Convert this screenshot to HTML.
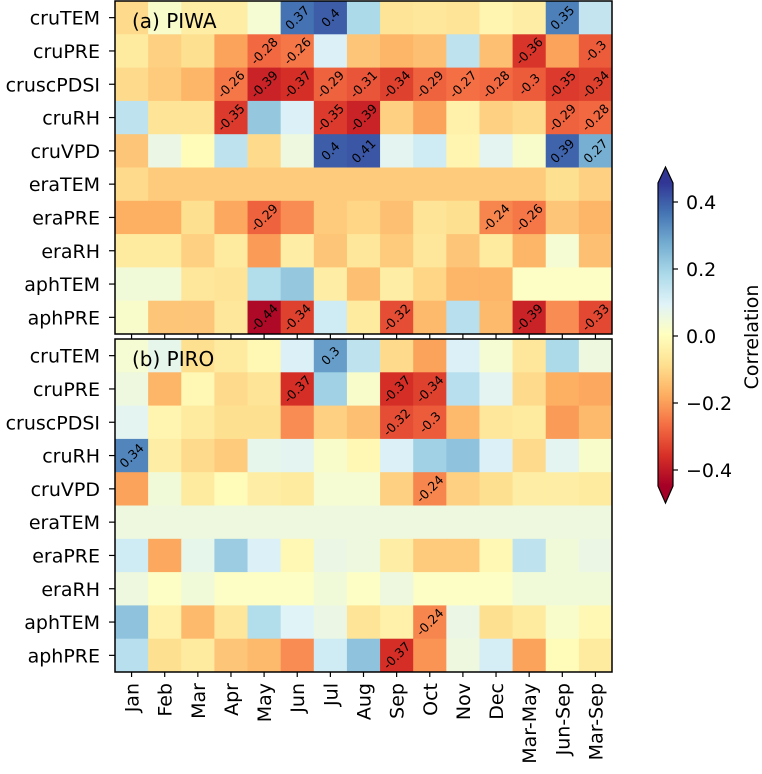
<!DOCTYPE html>
<html><head><meta charset="utf-8"><style>
html,body{margin:0;padding:0;background:#fff;width:762px;height:774px;overflow:hidden}
svg{display:block;font-family:"DejaVu Sans","Liberation Sans",sans-serif}
</style></head><body>
<svg id="chart" width="762" height="774" viewBox="0 0 762 774"></svg>
<script>
const months = ["Jan","Feb","Mar","Apr","May","Jun","Jul","Aug","Sep","Oct","Nov","Dec","Mar-May","Jun-Sep","Mar-Sep"];
const variables = ["cruTEM","cruPRE","cruscPDSI","cruRH","cruVPD","eraTEM","eraPRE","eraRH","aphTEM","aphPRE"];
const piwaValues = [
 [-0.1,0.02,-0.05,-0.05,0.03,0.37,0.4,0.18,-0.08,-0.07,-0.08,-0.03,-0.05,0.35,0.14],
 [-0.06,-0.12,-0.09,-0.2,-0.28,-0.26,0.1,-0.14,-0.17,-0.15,0.15,-0.15,-0.36,-0.2,-0.3],
 [-0.1,-0.13,-0.17,-0.26,-0.39,-0.37,-0.29,-0.31,-0.34,-0.29,-0.27,-0.28,-0.3,-0.35,-0.34],
 [0.15,-0.08,-0.08,-0.35,0.22,0.1,-0.35,-0.39,-0.12,-0.2,-0.04,-0.12,-0.1,-0.29,-0.28],
 [-0.14,0.06,-0.01,0.15,-0.1,0.05,0.4,0.41,0.08,0.12,-0.03,0.08,0.02,0.39,0.27],
 [-0.1,-0.13,-0.13,-0.13,-0.13,-0.13,-0.13,-0.13,-0.13,-0.13,-0.13,-0.13,-0.13,-0.09,-0.12],
 [-0.18,-0.18,-0.09,-0.19,-0.29,-0.23,-0.13,-0.11,-0.15,-0.08,-0.09,-0.24,-0.26,-0.14,-0.17],
 [-0.06,-0.06,-0.12,-0.06,-0.21,-0.05,-0.14,-0.07,-0.13,-0.07,-0.14,-0.06,-0.17,0.03,-0.15],
 [0.04,0.04,-0.07,-0.08,0.17,0.22,-0.05,-0.15,-0.05,-0.11,-0.17,-0.17,0.01,0.01,0.01],
 [0.02,-0.14,-0.14,-0.07,-0.44,-0.34,0.12,-0.06,-0.32,-0.16,0.16,-0.16,-0.39,-0.23,-0.33]
];
const piroValues = [
 [0.03,0.07,-0.09,-0.06,-0.02,0.1,0.3,0.15,-0.1,-0.2,0.1,0.03,-0.07,0.18,0.05],
 [0.05,-0.17,-0.02,-0.1,-0.08,-0.37,0.2,0.02,-0.37,-0.34,0.16,0.08,-0.1,-0.18,-0.19],
 [0.08,-0.03,-0.06,-0.09,-0.09,-0.23,-0.12,-0.15,-0.32,-0.3,-0.16,-0.07,-0.06,-0.21,-0.16],
 [0.34,-0.05,-0.1,-0.13,0.07,0.08,0.02,-0.02,0.1,0.2,0.23,0.1,-0.1,0.08,0.02],
 [-0.2,0.04,-0.06,-0.01,-0.05,-0.06,0.03,0.03,-0.12,-0.24,-0.12,-0.09,-0.05,-0.05,-0.06],
 [0.05,0.05,0.05,0.05,0.05,0.05,0.05,0.05,0.05,0.05,0.05,0.05,0.05,0.05,0.05],
 [0.12,-0.19,0.07,0.21,0.1,-0.02,0.06,0.05,-0.05,-0.13,-0.13,-0.02,0.15,0.04,0.06],
 [0.05,0.01,0.04,0.01,0.01,0.01,0.04,0.01,0.05,0.01,0.01,0.01,0.04,0.04,0.04],
 [0.23,-0.04,-0.16,-0.07,0.17,0.09,0.06,-0.08,-0.04,-0.24,0.06,-0.09,-0.06,0.02,-0.02],
 [0.16,-0.09,-0.06,-0.14,-0.16,-0.23,0.12,0.23,-0.37,-0.22,0.05,0.11,-0.2,-0.01,-0.06]
];
const panelTitles = ["(a) PIWA","(b) PIRO"];
const cbTicks = [0.4,0.2,0.0,-0.2,-0.4];
const cbTickLabels = ["0.4","0.2","0.0","\u22120.2","\u22120.4"];

const NS="http://www.w3.org/2000/svg";
const svg=document.getElementById('chart');
function mk(tag,attrs,parent){const e=document.createElementNS(NS,tag);for(const k in attrs)e.setAttribute(k,attrs[k]);(parent||svg).appendChild(e);return e;}
const VMAX=0.457;
const stops=["#a50026","#d73027","#f46d43","#fdae61","#fee090","#ffffbf","#e0f3f8","#abd9e9","#74add1","#4575b4","#313695"];
function hex(h){return [1,3,5].map(i=>parseInt(h.substr(i,2),16));}
function cmap(v){let t=(v+VMAX)/(2*VMAX);t=Math.max(0,Math.min(1,t));const p=t*10;const i=Math.min(9,Math.floor(p));const f=p-i;const a=hex(stops[i]),b=hex(stops[i+1]);return "rgb("+a.map((c,k)=>Math.round(c+(b[k]-c)*f)).join(",")+")";}
const X0=115,X1=612,CW=(X1-X0)/months.length,RH=33.3;
const panelTops=[1,339];
const FS=19;
const xScale=j=>X0+j*CW;
function fmt(v){return (Math.round(v*100)/100).toString();}
[piwaValues,piroValues].forEach((vals,p)=>{
  const top=panelTops[p];
  const yScale=i=>top+i*RH;
  const g=mk('g',{});
  
  
  vals.forEach((row,i)=>row.forEach((v,j)=>{
    const r=mk('rect',{x:xScale(j),y:yScale(i),width:CW+0.5,height:RH+0.5,fill:cmap(v)},g);
    
    
    if(Math.abs(v)>=0.24){
      const cx=xScale(j)+CW/2,cy=yScale(i)+RH/2;
      const t=mk('text',{x:cx,y:cy+4.5,'text-anchor':'middle','font-size':12.5,fill:'#000',transform:`rotate(-45 ${cx} ${cy})`},g);
      t.textContent=fmt(v);
      
      
    }
  }));
  const fr=mk('rect',{x:X0,y:top,width:X1-X0,height:RH*variables.length,fill:'none',stroke:'#000','stroke-width':1.5},g);
  
  
  variables.forEach((name,i)=>{
    const cy=yScale(i)+RH/2;
    mk('line',{x1:X0-6,x2:X0,y1:cy,y2:cy,stroke:'#000','stroke-width':1.2},g);
    const t=mk('text',{x:X0-15,y:cy+7,'text-anchor':'end','font-size':FS,fill:'#000'},g);
    t.textContent=name;
    
    
  });
  const bottom=top+RH*variables.length;
  months.forEach((m,j)=>{const cx=xScale(j)+CW/2;mk('line',{x1:cx,x2:cx,y1:bottom,y2:bottom+5,stroke:'#000','stroke-width':1.2},g);});
  const tt=mk('text',{x:132,y:top+27,'font-size':FS+1,fill:'#000'},g);
  tt.textContent=panelTitles[p];
  
  
});
const yb=panelTops[1]+RH*variables.length;
months.forEach((m,j)=>{
  const cx=xScale(j)+CW/2+7;const y=yb+11;
  const t=mk('text',{x:cx,y:y,'text-anchor':'end','font-size':FS,fill:'#000',transform:`rotate(-90 ${cx} ${y})`});
  t.textContent=m;
  
  
});
// colorbar
const CBX=658,CBW=15,CBT=183,CBB=486;
const cbScale=v=>336-(v/0.2)*67;
const defs=mk('defs',{});
const lg=mk('linearGradient',{id:'cbg',x1:0,y1:0,x2:0,y2:1},defs);
for(let k=0;k<=20;k++){const v=VMAX-k/20*2*VMAX;mk('stop',{offset:(k/20),'stop-color':cmap(v)},lg);}
const cb=mk('g',{});


mk('rect',{x:CBX,y:CBT,width:CBW,height:CBB-CBT,fill:'url(#cbg)'},cb);
mk('polygon',{points:`${CBX},${CBT} ${CBX+CBW/2},${CBT-16} ${CBX+CBW},${CBT}`,fill:'#313695'},cb);
mk('polygon',{points:`${CBX},${CBB} ${CBX+CBW/2},${CBB+17} ${CBX+CBW},${CBB}`,fill:'#a50026'},cb);
mk('path',{d:`M${CBX},${CBT} L${CBX+CBW/2},${CBT-16} L${CBX+CBW},${CBT} L${CBX+CBW},${CBB} L${CBX+CBW/2},${CBB+17} L${CBX},${CBB} Z`,fill:'none',stroke:'#000','stroke-width':1.2},cb);
cbTicks.forEach((v,k)=>{
  const y=cbScale(v);
  mk('line',{x1:CBX+CBW,x2:CBX+CBW+5,y1:y,y2:y,stroke:'#000','stroke-width':1.2},cb);
  const t=mk('text',{x:CBX+CBW+13,y:y+7,'font-size':FS,fill:'#000'},cb);
  t.textContent=cbTickLabels[k];
  
  
});
const cl=mk('text',{x:758,y:337,'text-anchor':'middle','font-size':FS,fill:'#000',transform:'rotate(-90 758 337)'});
cl.textContent='Correlation';


</script>
</body></html>
